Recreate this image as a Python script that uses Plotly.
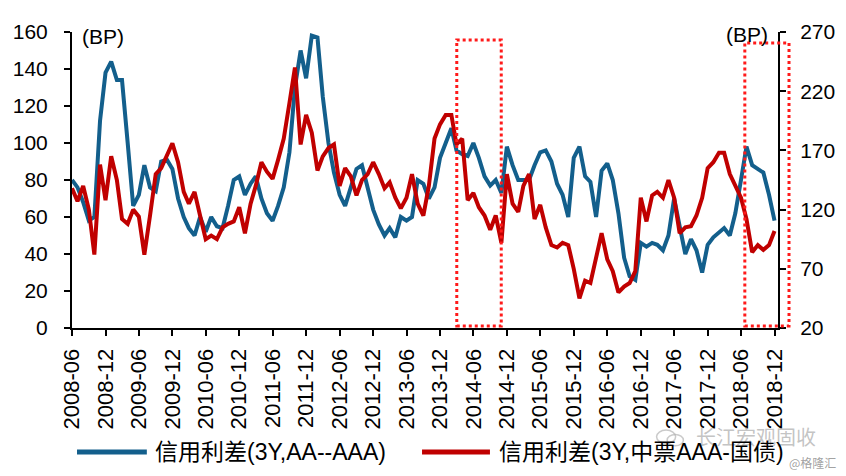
import pandas as pd
import plotly.graph_objects as go

# Monthly observations from 2008-06 to 2018-12
dates = pd.date_range("2008-06-01", "2018-12-01", freq="MS")

aa_aaa = [80, 76, 68, 58, 60, 112, 138, 144, 134, 134, 100, 66, 72, 88, 76, 74, 90, 91, 86, 70,
          60, 54, 50, 60, 52, 60, 55, 54, 66, 80, 82, 72, 78, 82, 70, 62, 58, 66, 76, 95,
          130, 150, 135, 158, 157, 125, 100, 84, 72, 66, 76, 86, 88, 76, 64, 56, 50, 54, 49, 60,
          58, 60, 80, 78, 70, 76, 92, 100, 108, 96, 94, 93, 100, 92, 82, 77, 80, 73, 98, 88,
          80, 80, 80, 88, 95, 96, 90, 78, 72, 60, 92, 98, 82, 79, 60, 85, 89, 80, 62, 38,
          28, 26, 46, 44, 46, 45, 42, 50, 70, 55, 40, 48, 42, 30, 45, 49, 52, 54, 50, 62,
          80, 98, 88, 86, 84, 72, 58]

mtn_gov = [138, 127, 140, 120, 82, 158, 128, 165, 145, 112, 108, 120, 114, 82, 115, 150, 155, 165, 176, 160,
           135, 125, 135, 115, 95, 98, 95, 105, 108, 110, 122, 100, 125, 140, 160, 152, 146, 162, 180, 210,
           240, 175, 200, 185, 153, 165, 172, 175, 140, 155, 148, 132, 145, 150, 160, 150, 138, 143, 130, 121,
           130, 150, 125, 115, 140, 180, 192, 200, 200, 175, 180, 128, 134, 122, 115, 103, 115, 92, 150, 125,
           118, 140, 150, 112, 124, 105, 90, 88, 92, 90, 70, 45, 60, 58, 80, 100, 78, 68, 50, 55,
           58, 68, 130, 110, 132, 135, 130, 145, 130, 100, 105, 106, 115, 130, 155, 160, 168, 168, 150, 140,
           130, 112, 84, 90, 86, 90, 102]

tick_dates = pd.date_range("2008-06-01", "2018-12-01", freq="6MS")
tick_labels = [d.strftime("%Y-%m") for d in tick_dates]
left_ticks = [0, 20, 40, 60, 80, 100, 120, 140, 160]
right_ticks = [20, 70, 120, 170, 220, 270]

name_blue = "信用利差(3Y,AA--AAA)"
name_red = "信用利差(3Y,中票AAA-国债)"

BLUE = "#135F8C"
RED = "#C00000"
FONT = "Liberation Sans, Arial, Noto Sans CJK SC"

fig = go.Figure()
fig.add_trace(go.Scatter(x=dates, y=aa_aaa, mode="lines", name=name_blue,
                         line=dict(color=BLUE, width=4), showlegend=False))
fig.add_trace(go.Scatter(x=dates, y=mtn_gov, mode="lines", name=name_red, yaxis="y2",
                         line=dict(color=RED, width=4), showlegend=False))

axis_common = dict(showline=True, linecolor="black", linewidth=2,
                   ticks="outside", ticklen=6, tickwidth=2, tickcolor="black",
                   showgrid=False, zeroline=False)

fig.update_layout(
    width=838, height=468,
    margin=dict(l=64, r=68, t=24, b=148, autoexpand=False),
    paper_bgcolor="white", plot_bgcolor="white",
    font=dict(family=FONT, size=20, color="black"),
    xaxis=dict(type="date", range=["2008-06-01", "2018-12-20"],
               tickvals=list(tick_dates), ticktext=tick_labels, tickangle=-90,
               tickfont=dict(size=22), ticklabelstandoff=4, **axis_common),
    yaxis=dict(range=[0, 160], tickvals=left_ticks, tickfont=dict(size=21),
               ticklabelstandoff=12, **axis_common),
    yaxis2=dict(range=[20, 270], tickvals=right_ticks, overlaying="y", side="right",
                tickfont=dict(size=21), ticklabelstandoff=10, **axis_common),
)

# unit labels
fig.add_annotation(text="(BP)", xref="paper", yref="paper", x=0.012, y=0.986, xanchor="left",
                   yanchor="middle", showarrow=False, font=dict(size=21))
fig.add_annotation(text="(BP)", xref="paper", yref="paper", x=0.9887, y=0.993, xanchor="right",
                   yanchor="middle", showarrow=False, font=dict(size=21))

# highlighted periods (dotted boxes)
for x0, x1, y1 in [(0.545, 0.608, 0.973), (0.953, 1.0156, 0.963)]:
    fig.add_shape(type="rect", xref="paper", yref="paper", x0=x0, x1=x1, y0=0.007, y1=y1,
                  line=dict(color="#FF1A1A", width=3, dash="dot"), fillcolor="rgba(0,0,0,0)")

# watermark (drawn beneath the legend)
fig.add_annotation(text="长江宏观固收", xref="paper", yref="paper", x=1.0567, y=-0.368,
                   xanchor="right", yanchor="middle", showarrow=False,
                   font=dict(size=20, color="rgba(170,170,170,0.7)", family="Noto Sans CJK SC"))
for cx0, cy0, cx1, cy1 in [(0.828, -0.345, 0.855, -0.39), (0.843, -0.36, 0.866, -0.398)]:
    fig.add_shape(type="circle", xref="paper", yref="paper", x0=cx0, y0=cy0, x1=cx1, y1=cy1,
                  line=dict(color="rgba(180,180,180,0.7)", width=1.5))
fig.add_annotation(text="@格隆汇", xref="paper", yref="paper", x=1.085, y=-0.453,
                   xanchor="right", yanchor="middle", showarrow=False,
                   font=dict(size=12, color="rgba(150,150,150,0.9)", family="Noto Sans CJK SC"))

# legend (drawn manually for exact placement)
legend_y = -0.419
for (lx0, lx1, tx, col, txt) in [(0.0071, 0.106, 0.1147, BLUE, name_blue),
                                 (0.4958, 0.592, 0.602, RED, name_red)]:
    fig.add_shape(type="line", xref="paper", yref="paper", x0=lx0, x1=lx1, y0=legend_y, y1=legend_y,
                  line=dict(color=col, width=5))
    fig.add_annotation(text=txt, xref="paper", yref="paper", x=tx, y=legend_y, xanchor="left",
                       yanchor="middle", showarrow=False,
                       font=dict(size=23, family="Liberation Sans, Noto Sans CJK SC", color="black"))

fig.write_html("out.html")
